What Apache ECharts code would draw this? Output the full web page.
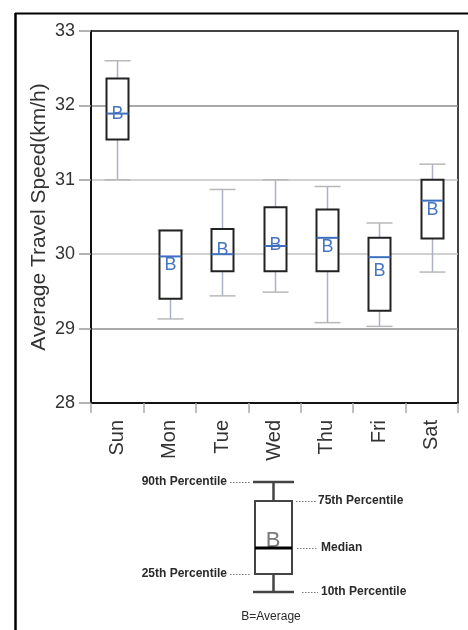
<!DOCTYPE html>
<html><head><meta charset="utf-8">
<script src="https://cdn.jsdelivr.net/npm/echarts@6/dist/echarts.min.js"></script>
<style>html,body{margin:0;padding:0;background:#fff}#c{width:468px;height:630px}</style>
</head><body><div id="c"></div>
<script>
const days = ['Sun','Mon','Tue','Wed','Thu','Fri','Sat'];
const p10 = [31.00, 29.13, 29.44, 29.49, 29.08, 29.03, 29.76];
const p25 = [31.54, 29.40, 29.77, 29.77, 29.77, 29.24, 30.21];
const median = [31.89, 29.97, 30.00, 30.11, 30.22, 29.96, 30.72];
const p75 = [32.36, 30.32, 30.34, 30.63, 30.60, 30.22, 31.00];
const p90 = [32.60, 30.32, 30.87, 31.00, 30.91, 30.42, 31.21];
const avg = [31.89, 29.85, 30.05, 30.12, 30.10, 29.77, 30.60];
const yTicks = [28, 29, 30, 31, 32, 33];
const yName = 'Average Travel Speed(km/h)';
const legendLabels = ['90th Percentile','75th Percentile','Median','25th Percentile','10th Percentile','B=Average'];

const FONT = '"Liberation Sans", Arial, sans-serif';
const chart = echarts.init(document.getElementById('c'), null, {renderer:'canvas'});

const data = days.map((d,i)=>[i, p10[i], p25[i], median[i], p75[i], p90[i], avg[i]]);

function renderItem(params, api){
  const i = api.value(0);
  const c10 = api.coord([i, api.value(1)]);
  const c25 = api.coord([i, api.value(2)]);
  const cMed = api.coord([i, api.value(3)]);
  const c75 = api.coord([i, api.value(4)]);
  const c90 = api.coord([i, api.value(5)]);
  const cAvg = api.coord([i, api.value(6)]);
  const cx = Math.round(c10[0]) + 0.5;
  const bw = 22, cw = 26;
  const wh = {stroke:'#aab3c6', lineWidth:1.5};
  const cap = {stroke:'#b8b8b8', lineWidth:1.5};
  return {type:'group', children:[
    {type:'line', shape:{x1:cx,y1:c90[1],x2:cx,y2:c75[1]}, style:wh},
    {type:'line', shape:{x1:cx,y1:c25[1],x2:cx,y2:c10[1]}, style:wh},
    {type:'line', shape:{x1:cx-cw/2,y1:c90[1],x2:cx+cw/2,y2:c90[1]}, style:cap},
    {type:'line', shape:{x1:cx-cw/2,y1:c10[1],x2:cx+cw/2,y2:c10[1]}, style:cap},
    {type:'rect', shape:{x:cx-bw/2,y:c75[1],width:bw,height:c25[1]-c75[1]}, style:{fill:'#fff',stroke:'#222',lineWidth:2}},
    {type:'line', shape:{x1:cx-bw/2,y1:cMed[1],x2:cx+bw/2,y2:cMed[1]}, style:{stroke:'#3f6fbf',lineWidth:2}},
    {type:'text', x:cx, y:cAvg[1], style:{text:'B', fill:'#4676c0', font:'18px '+FONT, align:'center', verticalAlign:'middle'}}
  ]};
}

function lg(x1,y1,x2,y2,stroke,w,dash){
  return {type:'line', shape:{x1,y1,x2,y2}, style:{stroke, lineWidth:w, lineDash:dash||null}};
}
function tx(x,y,text,align,extra){
  return {type:'text', x, y, style:Object.assign({text, fill:'#2a2a2a', font:'bold 12px '+FONT, align, verticalAlign:'middle'}, extra||{})};
}
const legendEls = [
  lg(253,482,294,482,'#444',2.5),
  lg(273.5,482,273.5,501,'#444',2.5),
  {type:'rect', shape:{x:255,y:501,width:37,height:73}, style:{fill:'#fff',stroke:'#444',lineWidth:2}},
  {type:'text', x:273, y:541, style:{text:'B', fill:'#7a7a7a', font:'22px '+FONT, align:'center', verticalAlign:'middle'}},
  lg(255,548,292,548,'#000',3),
  lg(273.5,574,273.5,592,'#444',2.5),
  lg(253,592,294,592,'#444',2.5),
  lg(230,482.5,250,482.5,'#777',1,[1.5,1.5]),
  lg(296,501.5,316,501.5,'#777',1,[1.5,1.5]),
  lg(297,548.5,317,548.5,'#777',1,[1.5,1.5]),
  lg(230,574.5,251,574.5,'#777',1,[1.5,1.5]),
  lg(302,592.5,318,592.5,'#777',1,[1.5,1.5]),
  tx(227,482,legendLabels[0],'right'),
  tx(318,501,legendLabels[1],'left'),
  tx(321,548,legendLabels[2],'left'),
  tx(227,574,legendLabels[3],'right'),
  tx(321,592,legendLabels[4],'left'),
  tx(271,617,legendLabels[5],'center', {font:'12px '+FONT})
];

chart.setOption({
  animation:false,
  backgroundColor:'#fff',
  grid:{left:91, right:10, top:31, bottom:227, show:true, borderColor:'#444', borderWidth:2, backgroundColor:'transparent'},
  xAxis:{
    type:'category', data:days, boundaryGap:true,
    axisLine:{lineStyle:{color:'#111', width:2}},
    axisTick:{show:true, length:10, lineStyle:{color:'#aaa', width:1.5}},
    axisLabel:{rotate:90, fontSize:20, color:'#333', fontFamily:FONT, margin:17},
    splitLine:{show:false}
  },
  yAxis:{
    type:'value', min:yTicks[0], max:yTicks[yTicks.length-1], interval:1,
    axisLine:{show:true, lineStyle:{color:'#111', width:2}},
    axisTick:{show:true, length:12, lineStyle:{color:'#999', width:1.5}},
    axisLabel:{fontSize:18, color:'#333', fontFamily:FONT, margin:16},
    splitLine:{show:true, lineStyle:{color:['#444','#8c8c8c','#c2c2c2','#c2c2c2','#8c8c8c','#444'], width:1.5}},
    name:yName, nameLocation:'middle', nameGap:41, nameMoveOverlap:false,
    nameTextStyle:{fontSize:21, color:'#333', fontFamily:FONT}
  },
  series:[{
    type:'custom', renderItem, data,
    encode:{x:0, y:[1,2,3,4,5,6]}, z:5
  }],
  graphic:[
    lg(15,13.5,468,13.5,'#000',2),
    lg(15.5,13,15.5,630,'#000',2.5)
  ].concat(legendEls)
});
</script></body></html>
